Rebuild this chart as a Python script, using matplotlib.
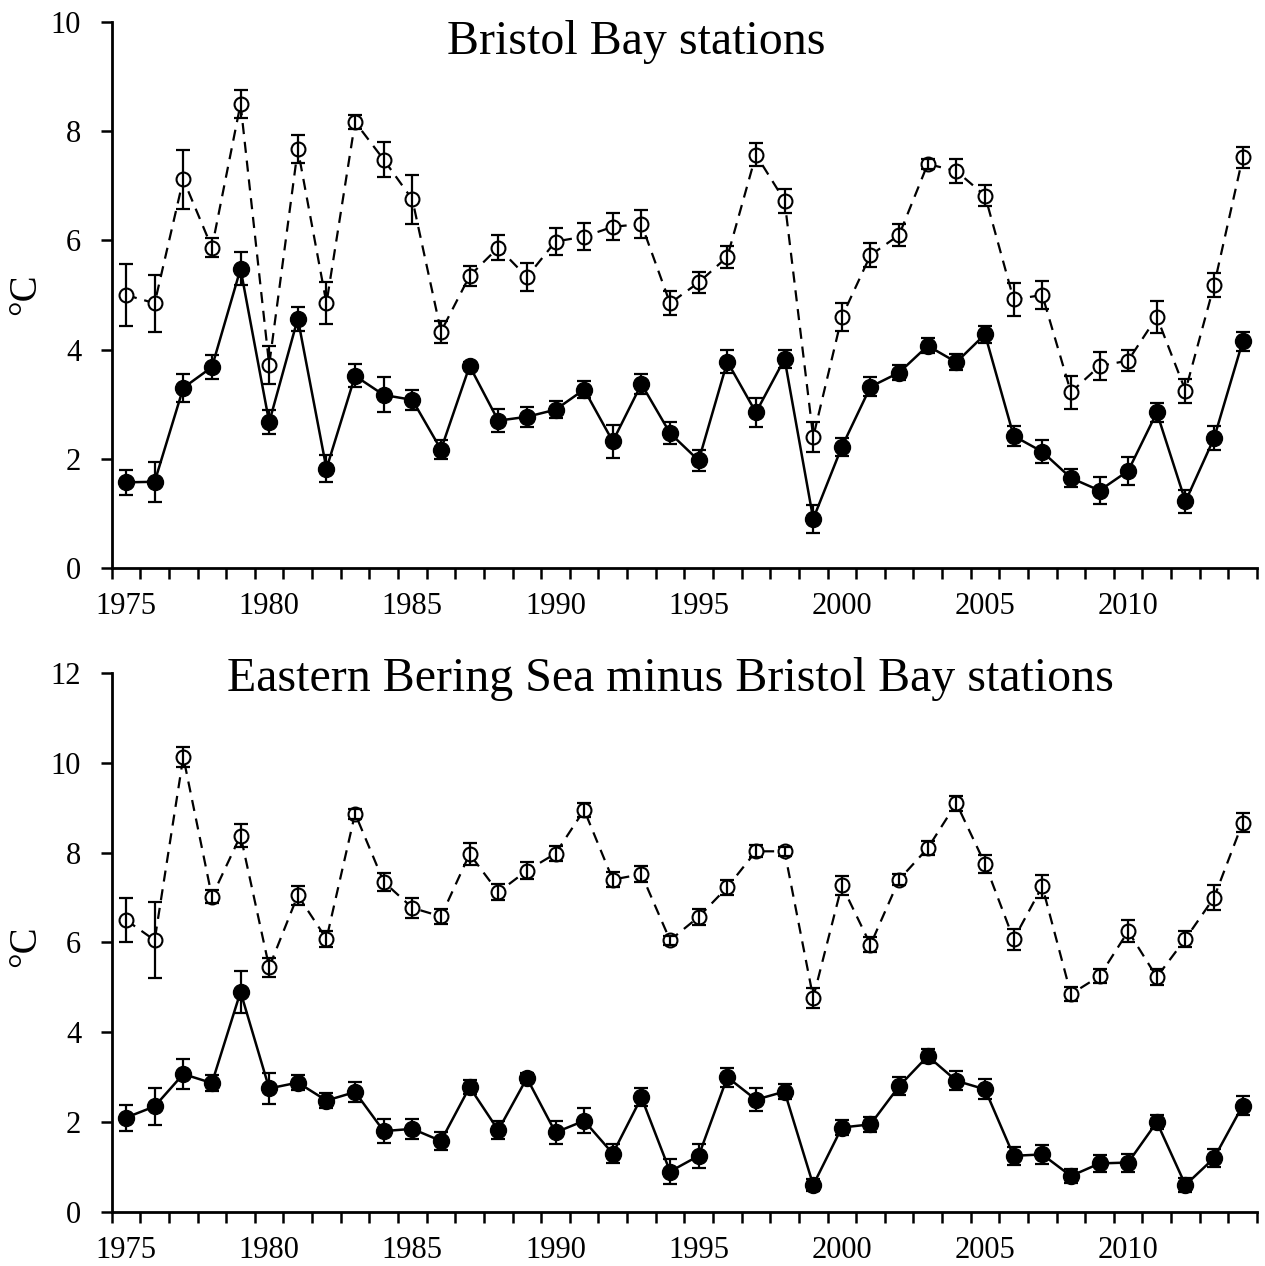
import matplotlib
matplotlib.use("Agg")
import matplotlib.pyplot as plt
from matplotlib.ticker import FixedLocator
import numpy as np

plt.rcParams['font.family'] = ['Liberation Serif', 'DejaVu Serif']

years = np.arange(1975, 2015)

# Bristol Bay stations
bb_open = [5.00, 4.85, 7.12, 5.87, 8.50, 3.72, 7.67, 4.85, 8.17, 7.48,
           6.75, 4.33, 5.35, 5.87, 5.33, 5.98, 6.07, 6.25, 6.30, 4.85,
           5.23, 5.70, 7.57, 6.73, 2.40, 4.60, 5.73, 6.10, 7.40, 7.27,
           6.82, 4.92, 5.00, 3.22, 3.70, 3.80, 4.60, 3.25, 5.18, 7.52]
bb_open_err = [0.56, 0.52, 0.54, 0.18, 0.25, 0.35, 0.26, 0.38, 0.13, 0.32,
               0.45, 0.20, 0.18, 0.23, 0.26, 0.24, 0.25, 0.25, 0.25, 0.22,
               0.20, 0.20, 0.21, 0.22, 0.28, 0.25, 0.22, 0.20, 0.10, 0.22,
               0.19, 0.30, 0.25, 0.30, 0.25, 0.20, 0.30, 0.22, 0.22, 0.20]
bb_fill = [1.57, 1.58, 3.30, 3.68, 5.48, 2.67, 4.57, 1.82, 3.52, 3.17,
           3.08, 2.17, 3.70, 2.70, 2.77, 2.90, 3.27, 2.32, 3.37, 2.47,
           1.97, 3.78, 2.85, 3.83, 0.90, 2.22, 3.32, 3.58, 4.07, 3.77,
           4.28, 2.42, 2.13, 1.65, 1.42, 1.78, 2.85, 1.22, 2.38, 4.15]
bb_fill_err = [0.23, 0.37, 0.25, 0.22, 0.30, 0.22, 0.22, 0.25, 0.21, 0.32,
               0.19, 0.18, 0.08, 0.21, 0.18, 0.16, 0.15, 0.30, 0.19, 0.20,
               0.20, 0.21, 0.27, 0.16, 0.25, 0.17, 0.17, 0.13, 0.14, 0.15,
               0.16, 0.18, 0.21, 0.16, 0.24, 0.26, 0.18, 0.21, 0.22, 0.17]

# Eastern Bering Sea minus Bristol Bay stations
ebs_open = [6.50, 6.05, 10.13, 7.02, 8.38, 5.45, 7.05, 6.08, 8.87, 7.35,
            6.77, 6.58, 7.97, 7.12, 7.60, 7.98, 8.95, 7.40, 7.52, 6.05,
            6.57, 7.23, 8.03, 8.03, 4.77, 7.27, 5.95, 7.40, 8.10, 9.10,
            7.75, 6.07, 7.25, 4.85, 5.25, 6.25, 5.23, 6.08, 7.00, 8.67]
ebs_open_err = [0.48, 0.85, 0.22, 0.15, 0.25, 0.21, 0.21, 0.17, 0.11, 0.20,
                0.23, 0.17, 0.24, 0.18, 0.19, 0.17, 0.15, 0.17, 0.18, 0.10,
                0.17, 0.17, 0.13, 0.10, 0.22, 0.22, 0.17, 0.12, 0.15, 0.17,
                0.20, 0.24, 0.25, 0.15, 0.15, 0.25, 0.17, 0.17, 0.28, 0.21]
ebs_fill = [2.10, 2.35, 3.07, 2.87, 4.90, 2.75, 2.88, 2.48, 2.67, 1.80,
            1.85, 1.58, 2.78, 1.82, 2.98, 1.77, 2.03, 1.30, 2.55, 0.90,
            1.25, 3.00, 2.50, 2.68, 0.60, 1.88, 1.95, 2.80, 3.47, 2.92,
            2.73, 1.25, 1.28, 0.80, 1.08, 1.10, 2.00, 0.60, 1.20, 2.37]
ebs_fill_err = [0.29, 0.42, 0.34, 0.17, 0.46, 0.35, 0.16, 0.16, 0.23, 0.26,
                0.22, 0.21, 0.16, 0.20, 0.11, 0.25, 0.28, 0.22, 0.20, 0.27,
                0.27, 0.21, 0.25, 0.17, 0.14, 0.17, 0.17, 0.20, 0.15, 0.21,
                0.22, 0.20, 0.21, 0.15, 0.18, 0.20, 0.15, 0.15, 0.21, 0.21]

panels = [
    dict(title="Bristol Bay stations", ymax=10,
         opn=bb_open, opn_err=bb_open_err, fil=bb_fill, fil_err=bb_fill_err,
         rect=[0.0883, 0.5513, 0.9054, 0.4313], title_xy=(0.503, 0.967),
         ylab_y=0.768),
    dict(title="Eastern Bering Sea minus Bristol Bay stations", ymax=12,
         opn=ebs_open, opn_err=ebs_open_err, fil=ebs_fill, fil_err=ebs_fill_err,
         rect=[0.0883, 0.0427, 0.9054, 0.4257], title_xy=(0.530, 0.464),
         ylab_y=0.253),
]

fig = plt.figure(figsize=(12.65, 12.66), dpi=100)

for p in panels:
    ax = fig.add_axes(p['rect'])
    # open circles, dashed line
    ax.plot(years, p['opn'], color='black', lw=1.6, ls=(0, (5, 3.5)), zorder=2)
    ax.errorbar(years, p['opn'], yerr=p['opn_err'], fmt='none', ecolor='black',
                elinewidth=1.6, capsize=4.7, capthick=1.6, zorder=4)
    ax.plot(years, p['opn'], ls='none', marker='o', ms=10, mfc='white',
            mec='black', mew=1.5, zorder=3)
    # filled circles, solid line
    ax.plot(years, p['fil'], color='black', lw=1.8, zorder=2)
    ax.errorbar(years, p['fil'], yerr=p['fil_err'], fmt='none', ecolor='black',
                elinewidth=1.6, capsize=4.7, capthick=1.6, zorder=4)
    ax.plot(years, p['fil'], ls='none', marker='o', ms=11.5, mfc='black',
            mec='black', zorder=3)

    ax.set_xlim(1974.5, 2014.5)
    ax.set_ylim(0, p['ymax'])
    ax.set_yticks(np.arange(0, p['ymax'] + 1, 2))
    ax.set_xticks(np.arange(1975, 2015, 5))
    ax.xaxis.set_minor_locator(FixedLocator(np.arange(1974.5, 2015, 1)))
    ax.tick_params(axis='x', which='major', length=0, labelsize=22, pad=17)
    ax.tick_params(axis='x', which='minor', length=8, width=1.8, direction='out')
    ax.tick_params(axis='y', length=8, width=1.8, direction='out',
                   labelsize=22, pad=14)
    for s in ['top', 'right']:
        ax.spines[s].set_visible(False)
    for s in ['left', 'bottom']:
        ax.spines[s].set_linewidth(2)

    fig.text(p['title_xy'][0], p['title_xy'][1], p['title'], fontsize=34.5,
             ha='center', va='center')
    fig.text(0.02, p['ylab_y'], "°C", fontsize=28, rotation=90,
             ha='center', va='center')

fig.savefig("out.png", dpi=100)
